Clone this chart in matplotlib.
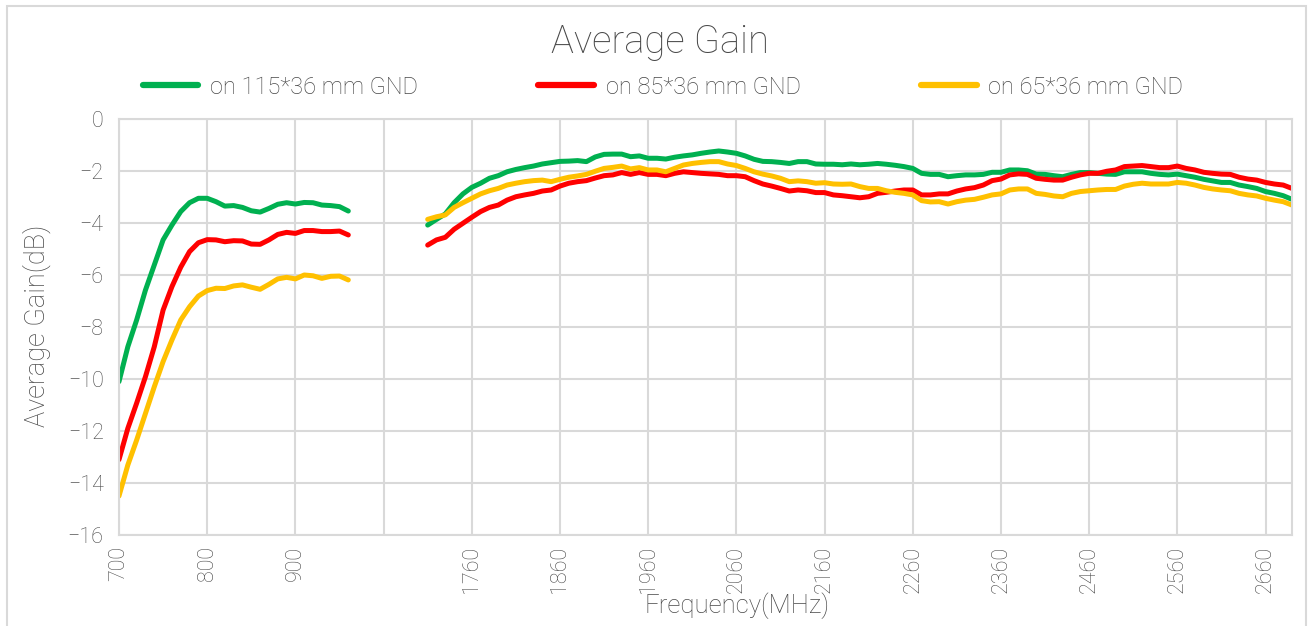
import matplotlib
matplotlib.use("Agg")
import matplotlib.pyplot as plt
from matplotlib.patches import Rectangle
import numpy as np

# --- data ---
low_freq = list(range(700, 961, 10))      # 700 .. 960 MHz
high_freq = list(range(1710, 2691, 10))   # 1710 .. 2690 MHz
n_gap = 8                                 # blank categories between the bands
categories = [str(f) for f in low_freq] + [''] * n_gap + [str(f) for f in high_freq]

green_low = [-10.1, -8.76, -7.73, -6.58, -5.62, -4.65, -4.08, -3.56, -3.22, -3.05,
             -3.05, -3.18, -3.35, -3.33, -3.40, -3.53, -3.58, -3.44, -3.28, -3.22,
             -3.27, -3.21, -3.22, -3.31, -3.33, -3.37, -3.54]
red_low = [-13.1, -11.9, -10.93, -9.91, -8.76, -7.35, -6.45, -5.70, -5.10, -4.76,
           -4.64, -4.65, -4.72, -4.68, -4.69, -4.81, -4.82, -4.65, -4.44, -4.36,
           -4.40, -4.29, -4.29, -4.33, -4.33, -4.31, -4.46]
yellow_low = [-14.5, -13.31, -12.35, -11.32, -10.30, -9.33, -8.50, -7.73, -7.22, -6.81,
              -6.60, -6.51, -6.52, -6.42, -6.38, -6.47, -6.55, -6.36, -6.15, -6.09,
              -6.15, -6.00, -6.03, -6.13, -6.05, -6.04, -6.19]

green_high = [-4.08, -3.86, -3.65, -3.22, -2.88, -2.63, -2.47, -2.28, -2.18, -2.03,
              -1.94, -1.87, -1.81, -1.73, -1.68, -1.63, -1.62, -1.60, -1.64, -1.46,
              -1.36, -1.35, -1.35, -1.45, -1.42, -1.51, -1.51, -1.54, -1.47, -1.42,
              -1.38, -1.32, -1.27, -1.23, -1.27, -1.32, -1.42, -1.55, -1.63, -1.64,
              -1.67, -1.71, -1.64, -1.64, -1.73, -1.74, -1.74, -1.76, -1.73, -1.76,
              -1.74, -1.71, -1.74, -1.78, -1.83, -1.90, -2.09, -2.13, -2.13, -2.22,
              -2.18, -2.15, -2.15, -2.13, -2.05, -2.05, -1.96, -1.96, -1.99, -2.12,
              -2.13, -2.18, -2.22, -2.13, -2.06, -2.06, -2.09, -2.12, -2.13, -2.03,
              -2.03, -2.03, -2.09, -2.13, -2.15, -2.12, -2.18, -2.24, -2.32, -2.38,
              -2.44, -2.44, -2.54, -2.60, -2.67, -2.79, -2.86, -2.95, -3.09]
red_high = [-4.85, -4.65, -4.55, -4.24, -4.01, -3.78, -3.56, -3.40, -3.31, -3.12,
            -2.99, -2.92, -2.86, -2.77, -2.73, -2.58, -2.47, -2.41, -2.37, -2.27,
            -2.18, -2.15, -2.06, -2.13, -2.06, -2.13, -2.13, -2.18, -2.09, -2.03,
            -2.06, -2.09, -2.11, -2.13, -2.18, -2.18, -2.22, -2.37, -2.50, -2.58,
            -2.67, -2.77, -2.73, -2.76, -2.83, -2.83, -2.92, -2.95, -2.99, -3.03,
            -2.99, -2.86, -2.82, -2.77, -2.73, -2.73, -2.92, -2.92, -2.88, -2.88,
            -2.77, -2.69, -2.64, -2.54, -2.37, -2.31, -2.15, -2.11, -2.13, -2.28,
            -2.32, -2.35, -2.35, -2.24, -2.15, -2.09, -2.09, -2.01, -1.96, -1.83,
            -1.81, -1.79, -1.83, -1.87, -1.87, -1.81, -1.90, -1.96, -2.05, -2.09,
            -2.12, -2.13, -2.24, -2.31, -2.35, -2.44, -2.50, -2.54, -2.67]
yellow_high = [-3.86, -3.76, -3.69, -3.40, -3.22, -3.05, -2.88, -2.76, -2.67, -2.54,
               -2.47, -2.41, -2.37, -2.35, -2.41, -2.32, -2.24, -2.19, -2.13, -2.01,
               -1.90, -1.86, -1.81, -1.92, -1.87, -1.96, -1.96, -2.03, -1.90, -1.77,
               -1.71, -1.67, -1.64, -1.64, -1.73, -1.79, -1.90, -2.03, -2.12, -2.19,
               -2.28, -2.41, -2.38, -2.41, -2.47, -2.45, -2.50, -2.51, -2.50, -2.60,
               -2.67, -2.67, -2.76, -2.82, -2.86, -2.92, -3.14, -3.19, -3.18, -3.27,
               -3.18, -3.12, -3.09, -3.01, -2.92, -2.88, -2.73, -2.69, -2.69, -2.86,
               -2.90, -2.96, -2.99, -2.86, -2.79, -2.76, -2.73, -2.71, -2.71, -2.58,
               -2.51, -2.47, -2.50, -2.50, -2.50, -2.44, -2.47, -2.54, -2.63, -2.69,
               -2.73, -2.76, -2.86, -2.92, -2.96, -3.05, -3.12, -3.18, -3.31]

series = [
    ('on 115*36 mm GND', green_low, green_high, '#00B050'),
    ('on 85*36 mm GND', red_low, red_high, '#FF0000'),
    ('on 65*36 mm GND', yellow_low, yellow_high, '#FFC000'),
]

# --- style ---
plt.rcParams['font.family'] = ['Roboto', 'DejaVu Sans']
plt.rcParams['font.weight'] = 'light'
TXT = '#484848'
GRID = '#D9D9D9'

W, H = 1310, 626
fig = plt.figure(figsize=(W / 100, H / 100), dpi=100)

def fx(px):
    return px / W

def fy(py):
    return 1 - py / H

# outer chart border
fig.patches.append(Rectangle((fx(7), fy(640)), fx(1306) - fx(7), fy(6) - fy(640),
                             transform=fig.transFigure, fill=False,
                             edgecolor=GRID, linewidth=1.5))

ax = fig.add_axes([fx(119), fy(535), fx(1292) - fx(119), fy(119) - fy(535)])

x = np.arange(len(categories))
for name, low, high, color in series:
    y = np.array(low + [np.nan] * n_gap + high)
    ax.plot(x, y, color=color, linewidth=3.6, label=name,
            solid_capstyle='round', solid_joinstyle='round')

ax.set_xlim(0, len(categories) - 1)
ax.set_ylim(-16, 0)
ax.set_yticks(np.arange(-16, 1, 2))
tick_pos = x[::10]
ax.set_xticks(tick_pos)
ax.set_xticklabels([categories[i] for i in tick_pos], rotation=90)

ax.grid(True, color=GRID, linewidth=1.5)
ax.set_axisbelow(True)
for sp in ax.spines.values():
    sp.set_color(GRID)
    sp.set_linewidth(1.5)
ax.tick_params(axis='both', length=0, labelsize=15.5, labelcolor=TXT)
ax.tick_params(axis='y', pad=11)
ax.tick_params(axis='x', pad=8)

fig.text(fx(660), fy(42), 'Average Gain', ha='center', va='center',
         fontsize=27.5, color=TXT)
fig.text(fx(37), fy(326), 'Average Gain(dB)', ha='center', va='center',
         rotation=90, fontsize=19.5, color=TXT)
fig.text(fx(737), fy(606), 'Frequency(MHz)', ha='center', va='center',
         fontsize=18.5, color=TXT)

leg = fig.legend(loc='center', bbox_to_anchor=(fx(663), fy(87)), ncol=3,
                 frameon=False, fontsize=17, handlelength=2.35,
                 handletextpad=0.5, columnspacing=5.1)
for t in leg.get_texts():
    t.set_color(TXT)
for h in leg.get_lines():
    h.set_linewidth(4.5)

fig.savefig('out.png', dpi=100)
